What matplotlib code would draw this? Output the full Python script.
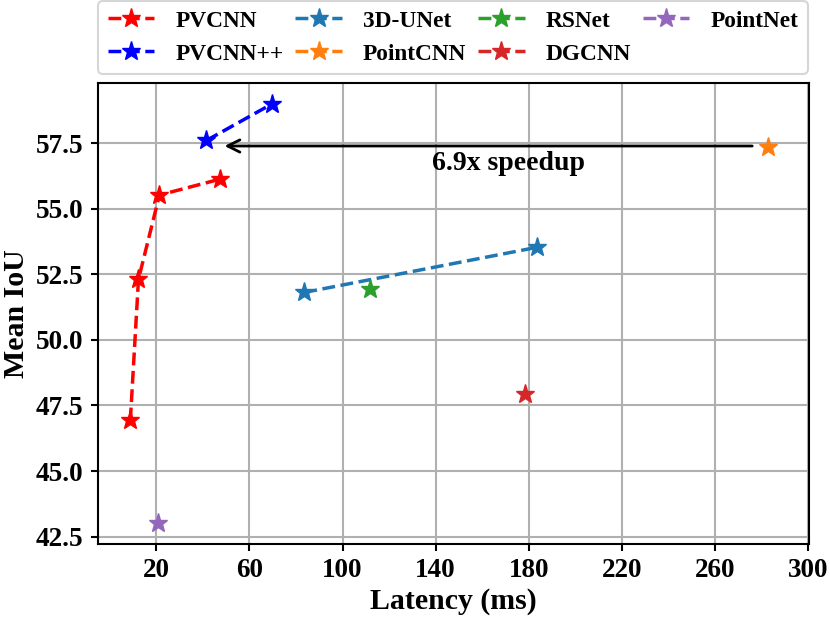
import matplotlib
matplotlib.use("Agg")
import matplotlib.pyplot as plt
from matplotlib.ticker import MultipleLocator

plt.rcParams['font.family'] = ['Liberation Serif', 'DejaVu Serif']
plt.rcParams['font.weight'] = 'bold'

# data
pvcnn_lat = [8.8, 12.3, 21.3, 47.5]
pvcnn_iou = [46.93, 52.31, 55.52, 56.13]
pvcnnpp_lat = [41.5, 69.8]
pvcnnpp_iou = [57.6, 59.0]
unet_lat = [83.6, 183.7]
unet_iou = [51.81, 53.53]
pointcnn_lat = [283.0]
pointcnn_iou = [57.35]
rsnet_lat = [111.9]
rsnet_iou = [51.93]
dgcnn_lat = [178.5]
dgcnn_iou = [47.92]
pointnet_lat = [20.9]
pointnet_iou = [43.03]
xticks = [20, 60, 100, 140, 180, 220, 260, 300]

fig = plt.figure(figsize=(8.3, 6.18), dpi=100)
ax = fig.add_axes([0.1175, 0.1202, 0.9747 - 0.1175, 0.866 - 0.1202])

kw = dict(linestyle='--', marker='*', markersize=14, linewidth=2.5)
ax.plot(pvcnn_lat, pvcnn_iou, color='red', label='PVCNN', **kw)
ax.plot(pvcnnpp_lat, pvcnnpp_iou, color='blue', label='PVCNN++', **kw)
ax.plot(unet_lat, unet_iou, color='C0', label='3D-UNet', **kw)
ax.plot(pointcnn_lat, pointcnn_iou, color='C1', label='PointCNN', **kw)
ax.plot(rsnet_lat, rsnet_iou, color='C2', label='RSNet', **kw)
ax.plot(dgcnn_lat, dgcnn_iou, color='C3', label='DGCNN', **kw)
ax.plot(pointnet_lat, pointnet_iou, color='C4', label='PointNet', **kw)

ax.annotate('', xy=(48.1, 57.39), xytext=(277.3, 57.39),
            arrowprops=dict(arrowstyle='->', color='black', lw=2, mutation_scale=22))
ax.text(171.2, 56.74, '6.9x speedup', ha='center', va='center', fontsize=20, fontweight='bold')

ax.set_xlim(-5.3, 300.5)
ax.set_xticks(xticks)
ax.yaxis.set_major_locator(MultipleLocator(2.5))
ax.grid(True, color='#b0b0b0', linewidth=1.5)
ax.set_axisbelow(True)
ax.tick_params(labelsize=19.5, width=1.5, length=5, pad=5)
for lab in ax.get_xticklabels() + ax.get_yticklabels():
    lab.set_fontweight('bold')
for s in ax.spines.values():
    s.set_linewidth(1.5)
ax.set_xlabel('Latency (ms)', fontsize=21.5, fontweight='bold', labelpad=4)
ax.set_ylabel('Mean IoU', fontsize=21.5, fontweight='bold', labelpad=4)

leg = fig.legend(loc='upper center', bbox_to_anchor=(453 / 830, 1 - 1 / 618), ncol=4,
                 prop=dict(size=16.8, weight='bold'), fancybox=True, handlelength=2,
                 handletextpad=0.9, columnspacing=0.5, borderpad=0.4, borderaxespad=0)
leg.get_frame().set_linewidth(1.5)

fig.savefig('out.png', dpi=100)
